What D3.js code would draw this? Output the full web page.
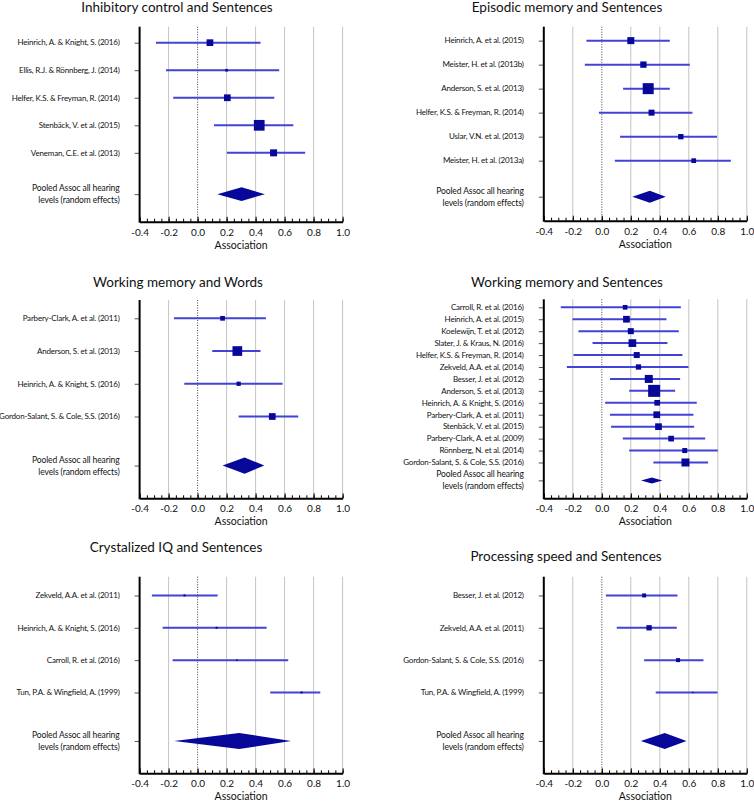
<!DOCTYPE html>
<html><head><meta charset="utf-8">
<script src="https://cdn.jsdelivr.net/npm/d3@7"></script>
<style>
body{margin:0;background:#fff}
svg{display:block}
text{font-family:Lato,"Open Sans",sans-serif;fill:#111}
</style>
</head><body>
<svg id="c" width="754" height="802"></svg>
<script>
// ---------- DATA ----------
const titles = ["Inhibitory control and Sentences", "Episodic memory and Sentences",
  "Working memory and Words", "Working memory and Sentences",
  "Crystalized IQ and Sentences", "Processing speed and Sentences"];
const xTickValues = [-0.4, -0.2, 0.0, 0.2, 0.4, 0.6, 0.8, 1.0];
const xAxisLabel = "Association";
const pooledLabel = ["Pooled Assoc all hearing", "levels (random effects)"];

const studies1 = ["Heinrich, A. & Knight, S. (2016)", "Ellis, R.J. & Rönnberg, J. (2014)", "Helfer, K.S. & Freyman, R. (2014)", "Stenbäck, V. et al. (2015)", "Veneman, C.E. et al. (2013)"];
const est1 = [0.085, 0.20, 0.205, 0.425, 0.524];
const lo1 = [-0.287, -0.218, -0.168, 0.113, 0.202];
const hi1 = [0.434, 0.563, 0.529, 0.66, 0.742];
const w1 = [45, 7, 45, 115, 49];
const pooled1 = [0.136, 0.303, 0.464];

const studies2 = ["Heinrich, A. et al. (2015)", "Meister, H. et al. (2013b)", "Anderson, S. et al. (2013)", "Helfer, K.S. & Freyman, R. (2014)", "Uslar, V.N. et al. (2013)", "Meister, H. et al. (2013a)"];
const est2 = [0.20, 0.287, 0.32, 0.343, 0.545, 0.634];
const lo2 = [-0.106, -0.117, 0.147, -0.02, 0.126, 0.09];
const hi2 = [0.469, 0.607, 0.469, 0.625, 0.795, 0.89];
const w2 = [49, 40, 121, 36, 28, 22];
const pooled2 = [0.211, 0.331, 0.441];

const studies3 = ["Parbery-Clark, A. et al. (2011)", "Anderson, S. et al. (2013)", "Heinrich, A. & Knight, S. (2016)", "Gordon-Salant, S. & Cole, S.S. (2016)"];
const est3 = [0.172, 0.274, 0.283, 0.515];
const lo3 = [-0.163, 0.101, -0.092, 0.283];
const hi3 = [0.471, 0.434, 0.586, 0.694];
const w3 = [22, 94, 18, 45];
const pooled3 = [0.172, 0.324, 0.46];

const studies4 = ["Carroll, R. et al. (2016)", "Heinrich, A. et al. (2015)", "Koelewijn, T. et al. (2012)", "Slater, J. & Kraus, N. (2016)", "Helfer, K.S. & Freyman, R. (2014)", "Zekveld, A.A. et al. (2014)", "Besser, J. et al. (2012)", "Anderson, S. et al. (2013)", "Heinrich, A. & Knight, S. (2016)", "Parbery-Clark, A. et al. (2011)", "Stenbäck, V. et al. (2015)", "Parbery-Clark, A. et al. (2009)", "Rönnberg, N. et al. (2014)", "Gordon-Salant, S. & Cole, S.S. (2016)"];
const est4 = [0.161, 0.17, 0.2, 0.211, 0.241, 0.253, 0.324, 0.361, 0.382, 0.379, 0.391, 0.478, 0.572, 0.577];
const lo4 = [-0.283, -0.202, -0.161, -0.064, -0.195, -0.241, 0.057, 0.189, 0.023, 0.057, 0.064, 0.145, 0.189, 0.356];
const hi4 = [0.545, 0.446, 0.531, 0.453, 0.556, 0.598, 0.54, 0.506, 0.655, 0.632, 0.637, 0.713, 0.80, 0.733];
const w4 = [22, 45, 36, 59, 36, 28, 64, 144, 32, 45, 45, 32, 25, 64];
const pooled4 = [0.271, 0.345, 0.418];

const studies5 = ["Zekveld, A.A. et al. (2011)", "Heinrich, A. & Knight, S. (2016)", "Carroll, R. et al. (2016)", "Tun, P.A. & Wingfield, A. (1999)"];
const est5 = [-0.09, 0.131, 0.271, 0.717];
const lo5 = [-0.315, -0.241, -0.172, 0.501];
const hi5 = [0.138, 0.476, 0.625, 0.846];
const w5 = [4, 4, 2.5, 4];
const pooled5 = [-0.161, 0.287, 0.644];

const studies6 = ["Besser, J. et al. (2012)", "Zekveld, A.A. et al. (2011)", "Gordon-Salant, S. & Cole, S.S. (2016)", "Tun, P.A. & Wingfield, A. (1999)"];
const est6 = [0.292, 0.326, 0.526, 0.628];
const lo6 = [0.028, 0.103, 0.292, 0.372];
const hi6 = [0.522, 0.517, 0.701, 0.798];
const w6 = [16, 28, 16, 2];
const pooled6 = [0.269, 0.434, 0.584];

// ---------- LAYOUT ----------
const panels = [
  {s: studies1, e: est1, lo: lo1, hi: hi1, w: w1, p: pooled1},
  {s: studies2, e: est2, lo: lo2, hi: hi2, w: w2, p: pooled2},
  {s: studies3, e: est3, lo: lo3, hi: hi3, w: w3, p: pooled3},
  {s: studies4, e: est4, lo: lo4, hi: hi4, w: w4, p: pooled4},
  {s: studies5, e: est5, lo: lo5, hi: hi5, w: w5, p: pooled5},
  {s: studies6, e: est6, lo: lo6, hi: hi6, w: w6, p: pooled6}
];
const geo = [
  {x0: 139.6, top: 26.7, bottom: 221.7, y0: 0.42, y1: 7.5, tx: 177, ty: 12},
  {x0: 543.8, top: 26.7, bottom: 220.7, y0: 0.42, y1: 8.5, tx: 567, ty: 12},
  {x0: 139.6, top: 300, bottom: 498.3, y0: 0.44, y1: 6.5, tx: 178, ty: 287},
  {x0: 543.8, top: 299.3, bottom: 498.3, y0: 0.33, y1: 17, tx: 567, ty: 287},
  {x0: 139.6, top: 576.7, bottom: 773.3, y0: 0.42, y1: 6.5, tx: 176, ty: 552},
  {x0: 543.8, top: 576.7, bottom: 773.3, y0: 0.42, y1: 6.5, tx: 566, ty: 561}
];
const axisW = 203;
const lineCol = "#4242d6", markCol = "#07079a";

const svg = d3.select("#c");
const fmt = d => d.toFixed(1);
const sizeScale = d3.scaleSqrt().domain([0, 144]).range([0, 12]);

panels.forEach((P, i) => {
  const G = geo[i];
  const n = P.s.length;
  const x = d3.scaleLinear().domain([-0.4, 1.0]).range([G.x0, G.x0 + axisW]);
  const y = d3.scaleLinear().domain([G.y0, G.y1]).range([G.top, G.bottom]);
  const g = svg.append("g");

  // title
  g.append("text").attr("x", G.tx).attr("y", G.ty).attr("text-anchor", "middle")
    .style("font-size", "13.5px").text(titles[i]);

  // grid
  g.selectAll("line.grid").data(xTickValues.filter(v => v !== -0.4 && v !== 0)).join("line")
    .attr("x1", d => x(d)).attr("x2", d => x(d)).attr("y1", G.top).attr("y2", G.bottom)
    .attr("stroke", "#c4c4c4").attr("stroke-width", 1);
  g.append("line").attr("x1", x(0)).attr("x2", x(0)).attr("y1", G.top).attr("y2", G.bottom)
    .attr("stroke", "#444").attr("stroke-width", 1).attr("stroke-dasharray", "1,1.5");

  const rows = d3.range(1, n + 1);
  const pooledRow = n + 1.5;

  // left axis
  const la = g.append("g").attr("transform", `translate(${G.x0},0)`)
    .call(d3.axisLeft(y).tickValues(rows.concat([pooledRow])).tickSize(5).tickFormat(""));
  la.select(".domain").remove();
  la.selectAll(".tick line").attr("stroke", "#555");
  g.append("line").attr("x1", G.x0).attr("x2", G.x0).attr("y1", G.top).attr("y2", G.bottom + 1)
    .attr("stroke", "#000").attr("stroke-width", 2);

  // bottom axis: minor ticks
  const mn = g.append("g").attr("transform", `translate(0,${G.bottom})`)
    .call(d3.axisBottom(x).tickValues(d3.range(-0.4, 1.0001, 0.05)).tickSize(-3).tickFormat(""));
  mn.select(".domain").remove();
  mn.selectAll(".tick line").attr("stroke", "#000");
  const ba = g.append("g").attr("transform", `translate(0,${G.bottom})`)
    .call(d3.axisBottom(x).tickValues(xTickValues).tickSizeInner(-5).tickSizeOuter(0).tickPadding(7).tickFormat(fmt));
  ba.select(".domain").attr("stroke", "#000").attr("stroke-width", 2);
  ba.selectAll(".tick line").attr("stroke", "#000");
  ba.selectAll(".tick text").style("font-size", "10px").style("font-family", "Lato, sans-serif").attr("fill", "#111");

  g.append("text").attr("x", x(0.3)).attr("y", G.bottom + 27).attr("text-anchor", "middle")
    .style("font-size", "10.5px").text(xAxisLabel);

  // study labels
  g.selectAll("text.lab").data(P.s).join("text")
    .attr("x", G.x0 - 20).attr("y", (d, j) => y(j + 1)).attr("dy", "0.35em")
    .attr("text-anchor", "end").style("font-size", "8px").style("letter-spacing", "-0.2px").text(d => d);
  g.selectAll("text.pl").data(pooledLabel).join("text")
    .attr("x", G.x0 - 20).attr("y", y(pooledRow)).attr("dy", (d, j) => j === 0 ? "-0.35em" : "1.05em")
    .attr("text-anchor", "end").style("font-size", "8.5px").style("letter-spacing", "-0.1px").text(d => d);

  // CI lines
  g.selectAll("line.ci").data(P.e).join("line")
    .attr("x1", (d, j) => x(P.lo[j])).attr("x2", (d, j) => x(P.hi[j]))
    .attr("y1", (d, j) => y(j + 1)).attr("y2", (d, j) => y(j + 1))
    .attr("stroke", lineCol).attr("stroke-width", 2);
  // squares
  g.selectAll("rect.sq").data(P.e).join("rect")
    .attr("x", (d, j) => x(d) - sizeScale(P.w[j]) / 2)
    .attr("y", (d, j) => y(j + 1) - sizeScale(P.w[j]) / 2)
    .attr("width", (d, j) => sizeScale(P.w[j]))
    .attr("height", (d, j) => sizeScale(P.w[j]))
    .attr("fill", markCol);
  // diamond
  const pr = pooledRow;
  const pts = [[x(P.p[0]), y(pr)], [x(P.p[1]), y(pr - 0.25)], [x(P.p[2]), y(pr)], [x(P.p[1]), y(pr + 0.25)]];
  g.append("path").attr("d", d3.line()(pts) + "Z").attr("fill", markCol);
});
</script>
</body></html>
